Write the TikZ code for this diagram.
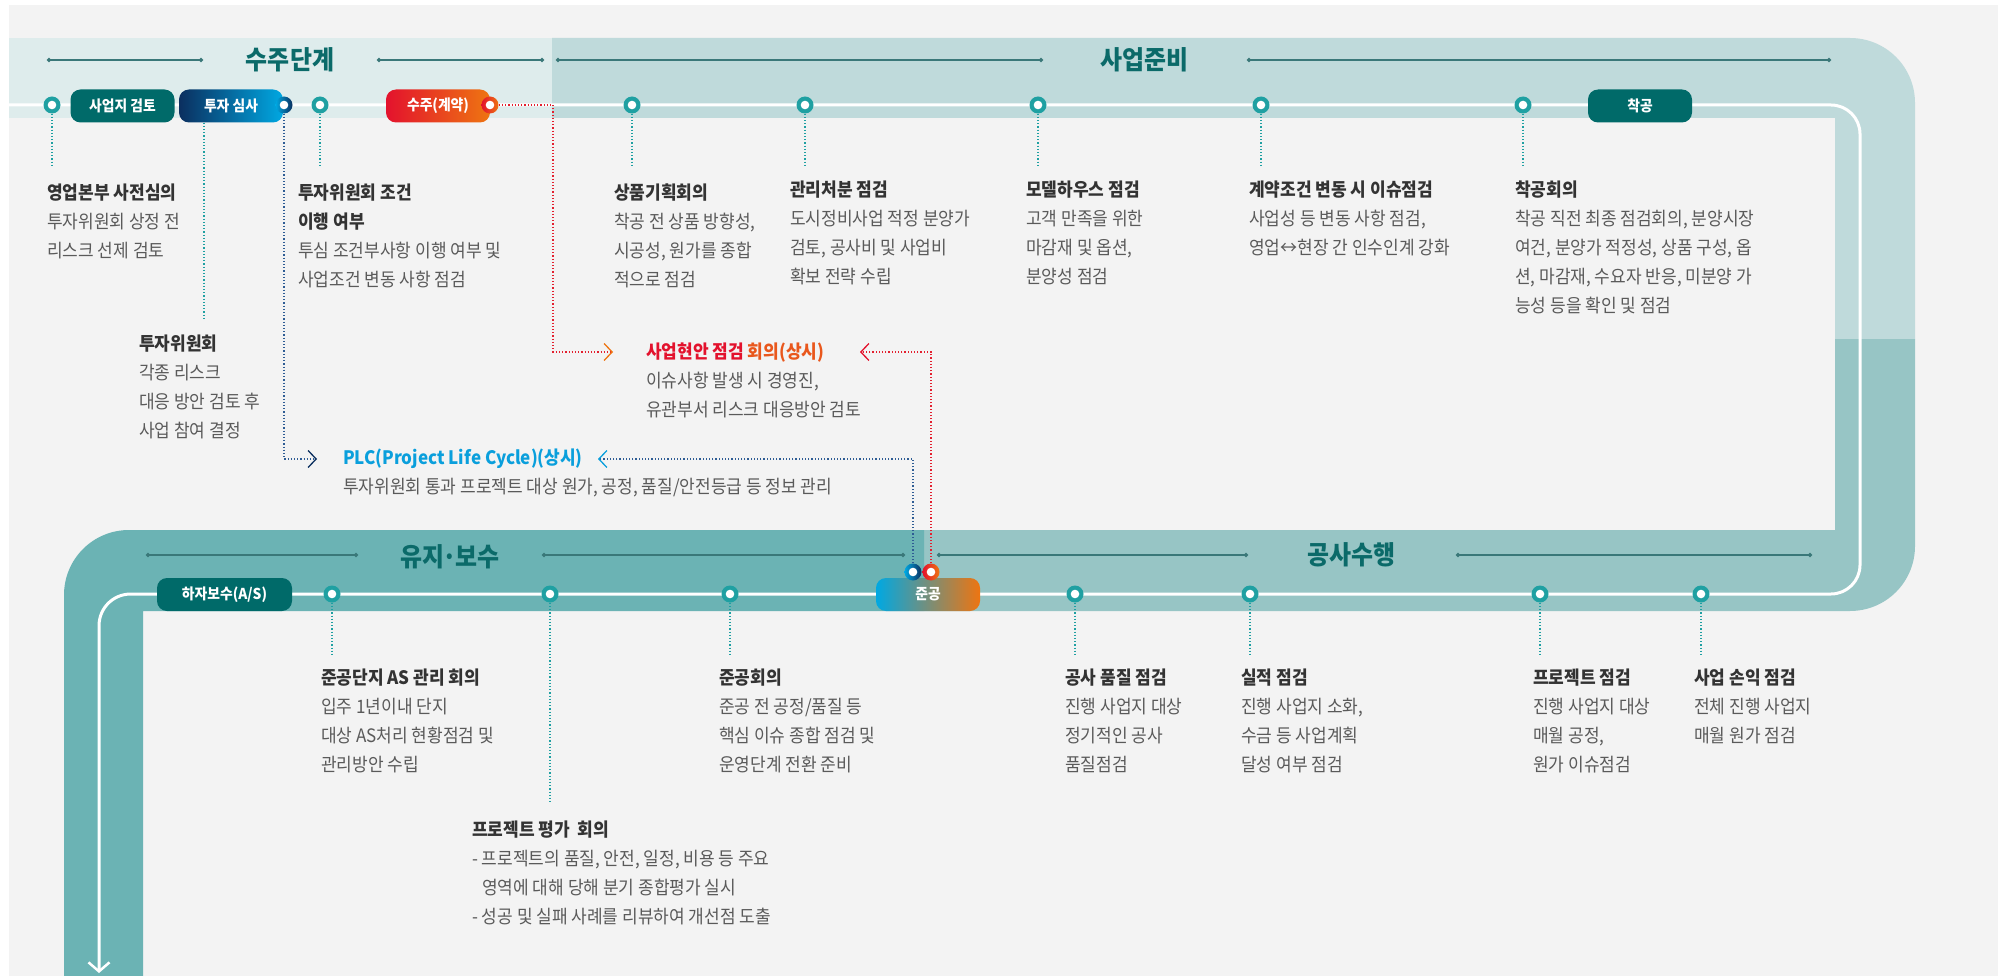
\documentclass[tikz,border=0pt]{standalone}
\usepackage{fontspec}
\setmainfont{Noto Sans CJK KR}[FakeStretch=0.92]
\usetikzlibrary{positioning,arrows.meta}

\definecolor{pagegray}{HTML}{F3F3F3}
\definecolor{bandA}{HTML}{DEECEC}
\definecolor{bandB}{HTML}{BFDADB}
\definecolor{bandC}{HTML}{97C5C5}
\definecolor{bandD}{HTML}{6BB3B4}
\definecolor{darkteal}{HTML}{006A69}
\definecolor{titleteal}{HTML}{0B6A69}
\definecolor{ruleteal}{HTML}{3A7879}
\definecolor{ringteal}{HTML}{1FA0A2}
\definecolor{headgray}{HTML}{333333}
\definecolor{bodygray}{HTML}{5A5A5A}
\definecolor{navy}{HTML}{0B2F5F}
\definecolor{navyline}{HTML}{2E5C94}
\definecolor{cyanblue}{HTML}{00A8E2}
\definecolor{plccyan}{HTML}{0A9FDC}
\definecolor{redpill}{HTML}{E3122D}
\definecolor{redline}{HTML}{E3202F}
\definecolor{orangepill}{HTML}{EE7511}
\definecolor{issueorange}{HTML}{E9571C}
\definecolor{midgray}{HTML}{B0A496}

\newcommand\hd[1]{{\bfseries\color{headgray}#1}}

\begin{document}
\begin{tikzpicture}[x=1pt, y=-1pt,
      every node/.style={font=\fontsize{18.5}{29}\selectfont},
      pill/.style={rounded corners=10pt, minimum width=104pt, minimum height=33pt,
                   inner sep=0pt, text=white, font=\bfseries\fontsize{15}{17}\selectfont},
      ring/.style={circle, inner sep=0pt, minimum size=17pt,
                   path picture={\fill[white] (path picture bounding box.center) circle (4.3pt);}},
      stopdot/.style={ring, fill=ringteal},
      tickline/.style={ringteal, dotted, line width=1.2pt},
      phaserule/.style={ruleteal, line width=1.8pt, {Circle[length=4pt]}-{Circle[length=4pt]}},
      phase/.style={text=titleteal, font=\bfseries\fontsize{26}{29}\selectfont},
      desc/.style={anchor=north west, align=left, inner sep=0pt, text=bodygray},
      reddot/.style={draw=redline, dotted, line width=1.2pt},
      navydot/.style={draw=navyline, dotted, line width=1.2pt},
      chev/.tip={Straight Barb[length=8pt, width=17pt, line width=1.3pt]},
  ]
    \fill[white] (0,0) rectangle (2005,976);
    \useasboundingbox (0,0) rectangle (2005,976);
    \fill[pagegray] (9,5) rectangle (1998,976);

    % Track bands
    \fill[bandB] (552,38) -- (1850,38) .. controls (1886,38) and (1915,67) .. (1915,103)
      -- (1915,339) -- (1835,339) -- (1835,118) -- (552,118) -- cycle;
    \fill[bandA] (9,38) rectangle (552,118);
    \fill[bandC] (1835,339) -- (1915,339) -- (1915,546) .. controls (1915,582) and (1886,611) .. (1850,611)
      -- (924,611) -- (924,530) -- (1835,530) -- cycle;
    \fill[bandD] (924,530) -- (129,530) .. controls (93,530) and (64,559) .. (64,595)
      -- (64,976) -- (143,976) -- (143,611) -- (924,611) -- cycle;

    % White track line
    \draw[white, line width=3pt, -{Straight Barb[length=9pt, width=21pt, line width=2.5pt]}]
      (9,105) -- (1831,105) .. controls (1847,105) and (1860,118) .. (1860,134)
      -- (1860,565) .. controls (1860,581) and (1847,594) .. (1831,594)
      -- (131,594) .. controls (113,594) and (99,608) .. (99,626) -- (99,973);

    % Phase titles
    \node[phase] (tOrder) at (290,60) {수주단계};
    \node[phase] (tPrep)  at (1144,60) {사업준비};
    \node[phase] (tCare)  at (450,557) {유지\kern-0.08em·\kern-0.08em보수};
    \node[phase] (tBuild) at (1351,555) {공사수행};
    \draw[phaserule] (47,60) -- (203,60);
    \draw[phaserule] (377,60) -- (544,60);
    \draw[phaserule] (556,60) -- (1043,60);
    \draw[phaserule] (1247,60) -- (1831,60);
    \draw[phaserule] (146,555) -- (358,555);
    \draw[phaserule] (542,555) -- (905,555);
    \draw[phaserule] (937,555) -- (1248,555);
    \draw[phaserule] (1456,555) -- (1812,555);

    % Pills on the track
    \node[pill, fill=darkteal] (site) at (122.5,106) {사업지 검토};
    \node[pill, left color=navy, right color=cyanblue] (invest) at (231,106) {투자 심사};
    \node[pill, left color=redpill, right color=orangepill] (order) at (438,106) {수주(계약)};
    \node[pill, fill=darkteal] (start) at (1640,106) {착공};
    \node[pill, fill=darkteal, minimum width=135pt] (repair) at (224.5,594.5) {하자보수(A/S)};
    \node[pill, left color=cyanblue, middle color=midgray, right color=orangepill] (done) at (928,594.5) {준공};

    % Stops: top row
    \node[stopdot] (sTop1) at (52,105) {};
    \node[ring, left color=cyanblue, right color=navy] (invRing) at (284,105) {};
    \node[stopdot] (sTop2) at (320,105) {};
    \node[ring, left color=redpill, right color=orangepill] (ordRing) at (490,105) {};
    \node[stopdot] (sTop3) at (632,105) {};
    \node[stopdot] (sTop4) at (805,105) {};
    \node[stopdot] (sTop5) at (1038,105) {};
    \node[stopdot] (sTop6) at (1261,105) {};
    \node[stopdot] (sTop7) at (1523,105) {};

    % Stops: bottom row
    \node[stopdot] (sBot1) at (332,594) {};
    \node[stopdot] (sBot2) at (550,594) {};
    \node[stopdot] (sBot3) at (730,594) {};
    \node[stopdot] (sBot4) at (1075,594) {};
    \node[stopdot] (sBot5) at (1250,594) {};
    \node[stopdot] (sBot6) at (1540,594) {};
    \node[stopdot] (sBot7) at (1701,594) {};
    \node[ring, left color=cyanblue, right color=navy] (doneNavy) at (913,572) {};
    \node[ring, left color=redpill, right color=orangepill] (doneRed) at (931,572) {};

    % Ticks down to the texts
    \coordinate (tickTop) at (0,167);
    \coordinate (tickBot) at (0,657);
    \coordinate (cmtEnd) at (204,320);
    \coordinate (evalEnd) at (550,802);
    \draw[tickline] (sTop1) -- (sTop1 |- tickTop);
    \draw[tickline] (sTop2) -- (sTop2 |- tickTop);
    \draw[tickline] (sTop3) -- (sTop3 |- tickTop);
    \draw[tickline] (sTop4) -- (sTop4 |- tickTop);
    \draw[tickline] (sTop5) -- (sTop5 |- tickTop);
    \draw[tickline] (sTop6) -- (sTop6 |- tickTop);
    \draw[tickline] (sTop7) -- (sTop7 |- tickTop);
    \draw[tickline] (invest.south -| cmtEnd) -- (cmtEnd);
    \draw[tickline] (sBot1) -- (sBot1 |- tickBot);
    \draw[tickline] (sBot2) -- (evalEnd);
    \draw[tickline] (sBot3) -- (sBot3 |- tickBot);
    \draw[tickline] (sBot4) -- (sBot4 |- tickBot);
    \draw[tickline] (sBot5) -- (sBot5 |- tickBot);
    \draw[tickline] (sBot6) -- (sBot6 |- tickBot);
    \draw[tickline] (sBot7) -- (sBot7 |- tickBot);

    % Top row texts
    \node[desc] (dPre) at (47,184) {\hd{영업본부 사전심의}\\투자위원회 상정 전\\리스크 선제 검토};
    \node[desc] (dCond) at (298,184) {\hd{투자위원회 조건}\\\hd{이행 여부}\\투심 조건부사항 이행 여부 및\\사업조건 변동 사항 점검};
    \node[desc] (dCmt) at (139,335) {\hd{투자위원회}\\각종 리스크\\대응 방안 검토 후\\사업 참여 결정};
    \node[desc] (dPlan) at (614,184) {\hd{상품기획회의}\\착공 전 상품 방향성,\\시공성, 원가를 종합\\적으로 점검};
    \node[desc] (dMgmt) at (790,181) {\hd{관리처분 점검}\\도시정비사업 적정 분양가\\검토, 공사비 및 사업비\\확보 전략 수립};
    \node[desc] (dModel) at (1026,181) {\hd{모델하우스 점검}\\고객 만족을 위한\\마감재 및 옵션,\\분양성 점검};
    \node[desc] (dCont) at (1249,181) {\hd{계약조건 변동 시 이슈점검}\\사업성 등 변동 사항 점검,\\영업↔현장 간 인수인계 강화};
    \node[desc] (dStart) at (1515,181) {\hd{착공회의}\\착공 직전 최종 점검회의, 분양시장\\여건, 분양가 적정성, 상품 구성, 옵\\션, 마감재, 수요자 반응, 미분양 가\\능성 등을 확인 및 점검};

    % Standing meetings
    \node[desc] (issue) at (646,343) {{\bfseries\color{redpill}사업현안 점검 }{\bfseries\color{issueorange}회의(상시)}\\이슈사항 발생 시 경영진,\\유관부서 리스크 대응방안 검토};
    \node[desc] (plc) at (343,449) {{\bfseries\color{plccyan}PLC(Project Life Cycle)(상시)}\\투자위원회 통과 프로젝트 대상 원가, 공정, 품질/안전등급 등 정보 관리};
    \coordinate (issueIn) at (613,352);
    \coordinate (issueBack) at (860,352);
    \coordinate (plcIn) at (317,459);
    \coordinate (plcBack) at (598,459);
    \draw[reddot, -{chev[color=orangepill]}] (ordRing.east) -| ([xshift=-60pt]issueIn) -- (issueIn);
    \draw[navydot, -{chev[color=navy]}] (invRing.south) |- (plcIn);
    \draw[navydot, -{chev[color=plccyan]}] (doneNavy.north) |- (plcBack);
    \draw[reddot, -{chev[color=redpill]}] (doneRed.north) |- (issueBack);

    % Bottom row texts
    \node[desc] (dAS) at (321,669) {\hd{준공단지 AS 관리 회의}\\입주 1년이내 단지\\대상 AS처리 현황점검 및\\관리방안 수립};
    \node[desc] (dDone) at (719,669) {\hd{준공회의}\\준공 전 공정/품질 등\\핵심 이슈 종합 점검 및\\운영단계 전환 준비};
    \node[desc] (dEval) at (472,821) {\hd{프로젝트 평가\ \ 회의}\\- 프로젝트의 품질, 안전, 일정, 비용 등 주요\\\hspace{10pt}영역에 대해 당해 분기 종합평가 실시\\- 성공 및 실패 사례를 리뷰하여 개선점 도출};
    \node[desc] (dQual) at (1065,669) {\hd{공사 품질 점검}\\진행 사업지 대상\\정기적인 공사\\품질점검};
    \node[desc] (dPerf) at (1241,669) {\hd{실적 점검}\\진행 사업지 소화,\\수금 등 사업계획\\달성 여부 점검};
    \node[desc] (dProj) at (1533,669) {\hd{프로젝트 점검}\\진행 사업지 대상\\매월 공정,\\원가 이슈점검};
    \node[desc] (dPL) at (1694,669) {\hd{사업 손익 점검}\\전체 진행 사업지\\매월 원가 점검};
  \end{tikzpicture}
\end{document}
